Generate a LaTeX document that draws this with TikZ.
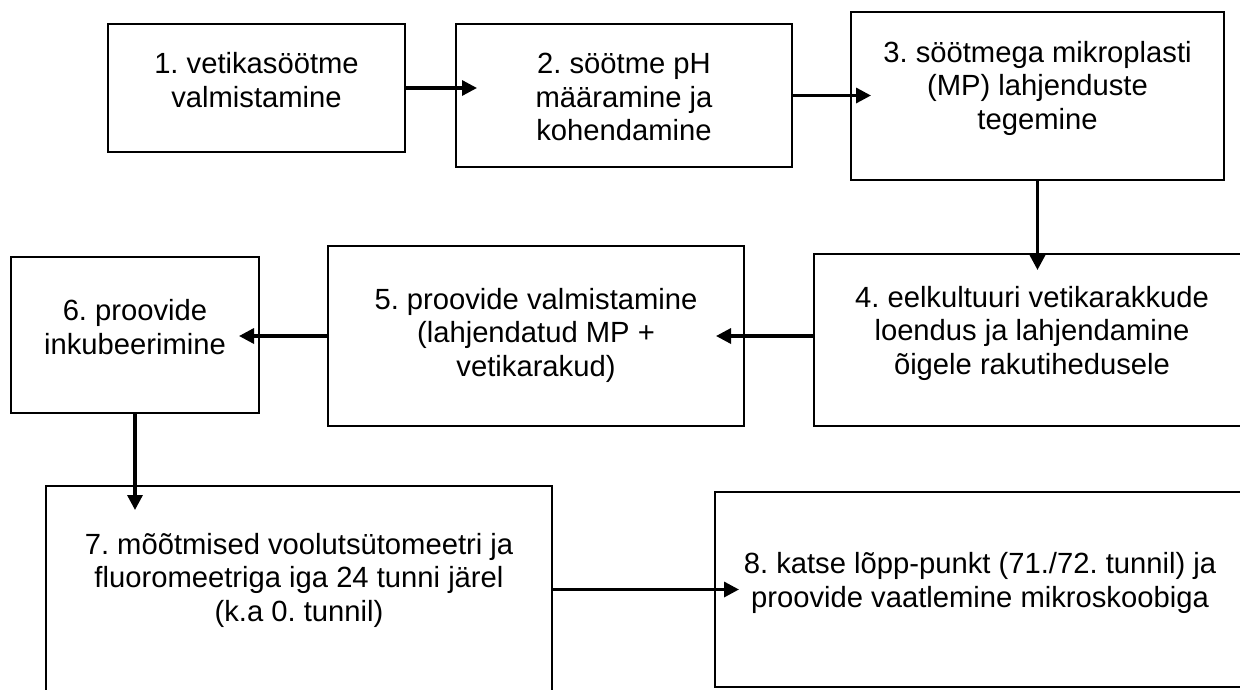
\documentclass[tikz,border=0pt]{standalone}
\usepackage{fontspec}
\setmainfont{Liberation Sans}
\usetikzlibrary{arrows.meta,calc}
\begin{document}
\frenchspacing
\begin{tikzpicture}[x=1pt,y=-1pt,
  stepbox/.style={draw=black,line width=1.6pt,rectangle,inner sep=0pt,outer sep=0pt},
  txt/.style={align=center,inner sep=0pt,font=\fontsize{29.2}{33.5}\selectfont\frenchspacing},
  arr/.style={line width=3.3pt,-{Triangle[length=15pt,width=15pt]}}]
\useasboundingbox (0,0) rectangle (1240,689);
\clip (0,0) rectangle (1240,689);
\node[stepbox,minimum width=297pt,minimum height=128pt] (b1) at (256.5,88) {};
\node[stepbox,minimum width=336pt,minimum height=143pt] (b2) at (624,95.5) {};
\node[stepbox,minimum width=373pt,minimum height=168pt] (b3) at (1037.5,96) {};
\node[stepbox,minimum width=436pt,minimum height=172pt] (b4) at (1032,340) {};
\node[stepbox,minimum width=416pt,minimum height=180pt] (b5) at (536,336) {};
\node[stepbox,minimum width=248pt,minimum height=156pt] (b6) at (135,335) {};
\node[stepbox,minimum width=506pt,minimum height=234pt] (b7) at (299,603) {};
\node[stepbox,minimum width=530pt,minimum height=195pt] (b8) at (980,589.5) {};
\node[txt] (t1) at (256.5,80) {1. vetikasöötme\\valmistamine};
\node[txt] (t2) at (624,97) {2. söötme pH\\määramine ja\\kohendamine};
\node[txt] (t3) at (1037.5,88) {3. söötmega mikroplasti\\(MP) lahjenduste\\tegemine};
\node[txt] (t4) at (1032,333) {4. eelkultuuri vetikarakkude\\loendus ja lahjendamine\\õigele rakutihedusele};
\node[txt] (t5) at (536,335) {5. proovide valmistamine\\(lahjendatud MP +\\vetikarakud)};
\node[txt] (t6) at (135,327) {6. proovide\\inkubeerimine};
\node[txt] (t7) at (299,580) {7. mõõtmised voolutsütomeetri ja\\fluoromeetriga iga 24 tunni järel\\(k.a 0. tunnil)};
\node[txt] (t8) at (980,583) {8. katse lõpp-punkt (71./72. tunnil) ja\\proovide vaatlemine mikroskoobiga};
\draw[arr] (b1.east) -- ($(b2.west |- b1.east)+(21,0)$);
\draw[arr] (b2.east) -- ($(b3.west |- b2.east)+(20,0)$);
\draw[arr] (b3.south) -- ($(b4.north -| b3.south)+(0,16)$);
\draw[arr] (b4.west |- b5.east) -- ($(b5.east)+(-28,0)$);
\draw[arr] (b5.west) -- ($(b6.east |- b5.west)+(-20,0)$);
\draw[arr] (b6.south) -- ($(b7.north -| b6.south)+(0,24)$);
\draw[arr] (b7.east |- b8.west) -- ($(b8.west)+(24,0)$);
\end{tikzpicture}
\end{document}
